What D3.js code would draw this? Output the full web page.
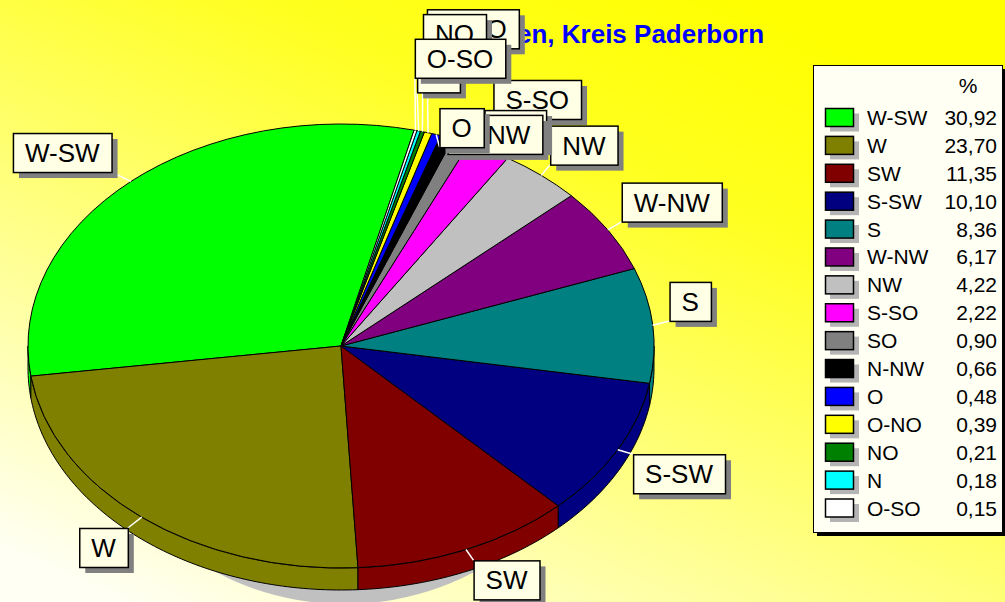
<!DOCTYPE html>
<html>
<head>
<meta charset="utf-8">
<script src="https://cdn.jsdelivr.net/npm/d3@7"></script>
<style>
  html, body { margin: 0; padding: 0; overflow: hidden; background: #ffff40; }
  svg { display: block; font-family: "Liberation Sans", Arial, sans-serif; }
</style>
</head>
<body>
<div id="chart"></div>
<script>
// wind direction shares in percent (sorted as in the legend)
const directions = ["W-SW", "W", "SW", "S-SW", "S", "W-NW", "NW", "S-SO", "SO", "N-NW", "O", "O-NO", "NO", "N", "O-SO"];
const shares = [30.92, 23.70, 11.35, 10.10, 8.36, 6.17, 4.22, 2.22, 0.90, 0.66, 0.48, 0.39, 0.21, 0.18, 0.15];
const titleText = "en, Kreis Paderborn";
const legendHeader = "%";

const width = 1005, height = 602;

const svg = d3.select("#chart")
    .append("svg")
    .attr("width", width)
    .attr("height", height);

// background gradient: strong yellow top right, pale bottom left
const defs = svg.append("defs");
const bg = defs.append("linearGradient")
    .attr("id", "bg")
    .attr("x1", "0.75").attr("y1", "0")
    .attr("x2", "0.05").attr("y2", "0.95");
bg.append("stop").attr("offset", "0").attr("stop-color", "#ffff00");
bg.append("stop").attr("offset", "0.25").attr("stop-color", "#ffff20");
bg.append("stop").attr("offset", "1").attr("stop-color", "#fffff4");
svg.append("rect").attr("width", width).attr("height", height).attr("fill", "url(#bg)");

// title (left part hidden behind the label boxes)
svg.append("text")
    .attr("x", 517)
    .attr("y", 43)
    .style("font-size", "26px")
    .style("font-weight", "bold")
    .style("fill", "#0000ff")
    .text(titleText);

// pie geometry
const cx = 341, cy = 346, rx = 313, ry = 222, depth = 22, startDeg = 76.5;

const color = d3.scaleOrdinal()
    .domain(directions)
    .range(["#00ff00", "#808000", "#800000", "#000080", "#008080", "#800080", "#c0c0c0",
            "#ff00ff", "#808080", "#000000", "#0000ff", "#ffff00", "#008000", "#00ffff", "#ffffff"]);

const pie = d3.pie().sort(null).value(d => d.value);
const slices = pie(directions.map((k, i) => ({ key: k, value: shares[i] })));

// d3 pie angle -> screen angle in degrees (counter-clockwise from east)
const theta = a => startDeg + a * 180 / Math.PI;
const rad = deg => deg * Math.PI / 180;
const ex = deg => cx + rx * Math.cos(rad(deg));
const ey = deg => cy - ry * Math.sin(rad(deg));

// shadow under the pie
svg.append("ellipse")
    .attr("cx", cx + 4)
    .attr("cy", cy + depth + 14)
    .attr("rx", 250)
    .attr("ry", ry)
    .attr("fill", "#c0c0c0");

// side walls (only the front half is visible)
const sideLine = d3.line();
const sides = [];
slices.forEach(d => {
    const a0 = theta(d.startAngle), a1 = theta(d.endAngle);
    [-360, 0, 360].forEach(off => {
        const a = Math.max(a0 + off, 180), b = Math.min(a1 + off, 360);
        if (b > a) sides.push({ key: d.data.key, a: a, b: b });
    });
});

function sidePath(s) {
    const n = Math.max(2, Math.ceil(s.b - s.a));
    const top = d3.range(n + 1).map(i => s.a + (s.b - s.a) * i / n).map(t => [ex(t), ey(t)]);
    const bottom = top.slice().reverse().map(p => [p[0], p[1] + depth]);
    return sideLine(top.concat(bottom)) + "Z";
}

svg.append("g")
    .selectAll("path")
    .data(sides)
    .join("path")
    .attr("d", sidePath)
    .attr("fill", d => color(d.key))
    .attr("stroke", "black")
    .attr("stroke-width", 1);

// top surface: circular arcs squashed into an ellipse
const arc = d3.arc().innerRadius(0).outerRadius(rx);
svg.append("g")
    .attr("transform", `translate(${cx},${cy}) scale(1,${ry / rx})`)
    .selectAll("path")
    .data(slices)
    .join("path")
    .attr("d", d => arc({
        startAngle: rad(90 - theta(d.startAngle)),
        endAngle: rad(90 - theta(d.endAngle))
    }))
    .attr("fill", d => color(d.data.key))
    .attr("stroke", "black")
    .attr("stroke-width", 1)
    .attr("vector-effect", "non-scaling-stroke");

// labels: box hangs off a short leader, small slices pushed apart by hand
const labelFont = 26, boxPad = 12, boxH = 39, leader = 14;
const labelNudge = {
    "W-SW": [-10, 1], "W": [-5, 0], "SW": [2, -2], "S-SW": [3, -2], "S": [3, -3], "W-NW": [2, -1],
    "S-SO": [-2, -19], "SO": [18, 21], "N-NW": [-4, 30], "O": [-1, 26],
    "O-NO": [-5, -71], "NO": [-3, -65], "N": [-5, -25], "O-SO": [-4, -39]
};

const measure = svg.append("text").style("font-size", labelFont + "px").attr("visibility", "hidden");
const labels = slices.map(d => {
    const key = d.data.key;
    const m = theta((d.startAngle + d.endAngle) / 2);
    const c = Math.cos(rad(m)), s = Math.sin(rad(m));
    const x0 = ex(m), y0 = ey(m);
    const lx = x0 + leader * c, ly = y0 - leader * s;
    measure.text(key);
    const w = measure.node().getComputedTextLength() + boxPad * 2;
    const nud = labelNudge[key] || [0, 0];
    const bx = (c >= 0 ? lx : lx - w) + nud[0];
    const by = (s >= 0 ? ly - boxH : ly) + nud[1];
    // corner the leader points to
    const px = c >= 0 ? bx : bx + w;
    const py = s >= 0 ? by + boxH : by;
    return { key, x0, y0, px, py, bx, by, w };
});
measure.remove();

svg.append("g")
    .selectAll("line")
    .data(labels)
    .join("line")
    .attr("x1", d => d.x0).attr("y1", d => d.y0)
    .attr("x2", d => d.px).attr("y2", d => d.py)
    .attr("stroke", "white")
    .attr("stroke-width", 1.5);

const labelG = svg.append("g")
    .selectAll("g")
    .data(labels)
    .join("g")
    .attr("transform", d => `translate(${d.bx},${d.by})`);

labelG.append("rect")
    .attr("x", 6).attr("y", 6)
    .attr("width", d => d.w).attr("height", boxH)
    .attr("fill", "#808080");

labelG.append("rect")
    .attr("x", 0.5).attr("y", 0.5)
    .attr("width", d => d.w).attr("height", boxH)
    .attr("fill", "#ffffe6")
    .attr("stroke", "black")
    .attr("stroke-width", 1.5);

labelG.append("text")
    .attr("x", d => d.w / 2)
    .attr("y", boxH / 2 + 9.5)
    .attr("text-anchor", "middle")
    .style("font-size", labelFont + "px")
    .style("fill", "#000")
    .text(d => d.key);

// legend
const fmt = d3.formatLocale({ decimal: ",", thousands: ".", grouping: [3], currency: ["", ""] }).format(".2f");
const legendX = 813, legendY = 65, legendW = 189, legendH = 467;

svg.append("rect")
    .attr("x", legendX + 4).attr("y", legendY + 4)
    .attr("width", legendW).attr("height", legendH)
    .attr("fill", "black");
svg.append("rect")
    .attr("x", legendX + 0.5).attr("y", legendY + 0.5)
    .attr("width", legendW).attr("height", legendH)
    .attr("fill", "#fffff4")
    .attr("stroke", "black")
    .attr("stroke-width", 1);

svg.append("text")
    .attr("x", 968)
    .attr("y", 93)
    .attr("text-anchor", "middle")
    .style("font-size", "21px")
    .text(legendHeader);

const rowY = d3.scalePoint()
    .domain(directions)
    .range([117.5, 508]);

const rows = svg.append("g")
    .selectAll("g")
    .data(directions)
    .join("g")
    .attr("transform", d => `translate(0,${rowY(d)})`);

rows.append("rect")
    .attr("x", 830).attr("y", -4)
    .attr("width", 29).attr("height", 18)
    .attr("fill", "#b4b4b4");

rows.append("rect")
    .attr("x", 825.5).attr("y", -9)
    .attr("width", 28).attr("height", 18)
    .attr("fill", d => color(d))
    .attr("stroke", "black")
    .attr("stroke-width", 1.5);

rows.append("text")
    .attr("x", 867)
    .attr("y", 7.5)
    .style("font-size", "21px")
    .text(d => d);

rows.append("text")
    .attr("x", 997)
    .attr("y", 7.5)
    .attr("text-anchor", "end")
    .style("font-size", "21px")
    .text((d, i) => fmt(shares[i]));
</script>
</body>
</html>
